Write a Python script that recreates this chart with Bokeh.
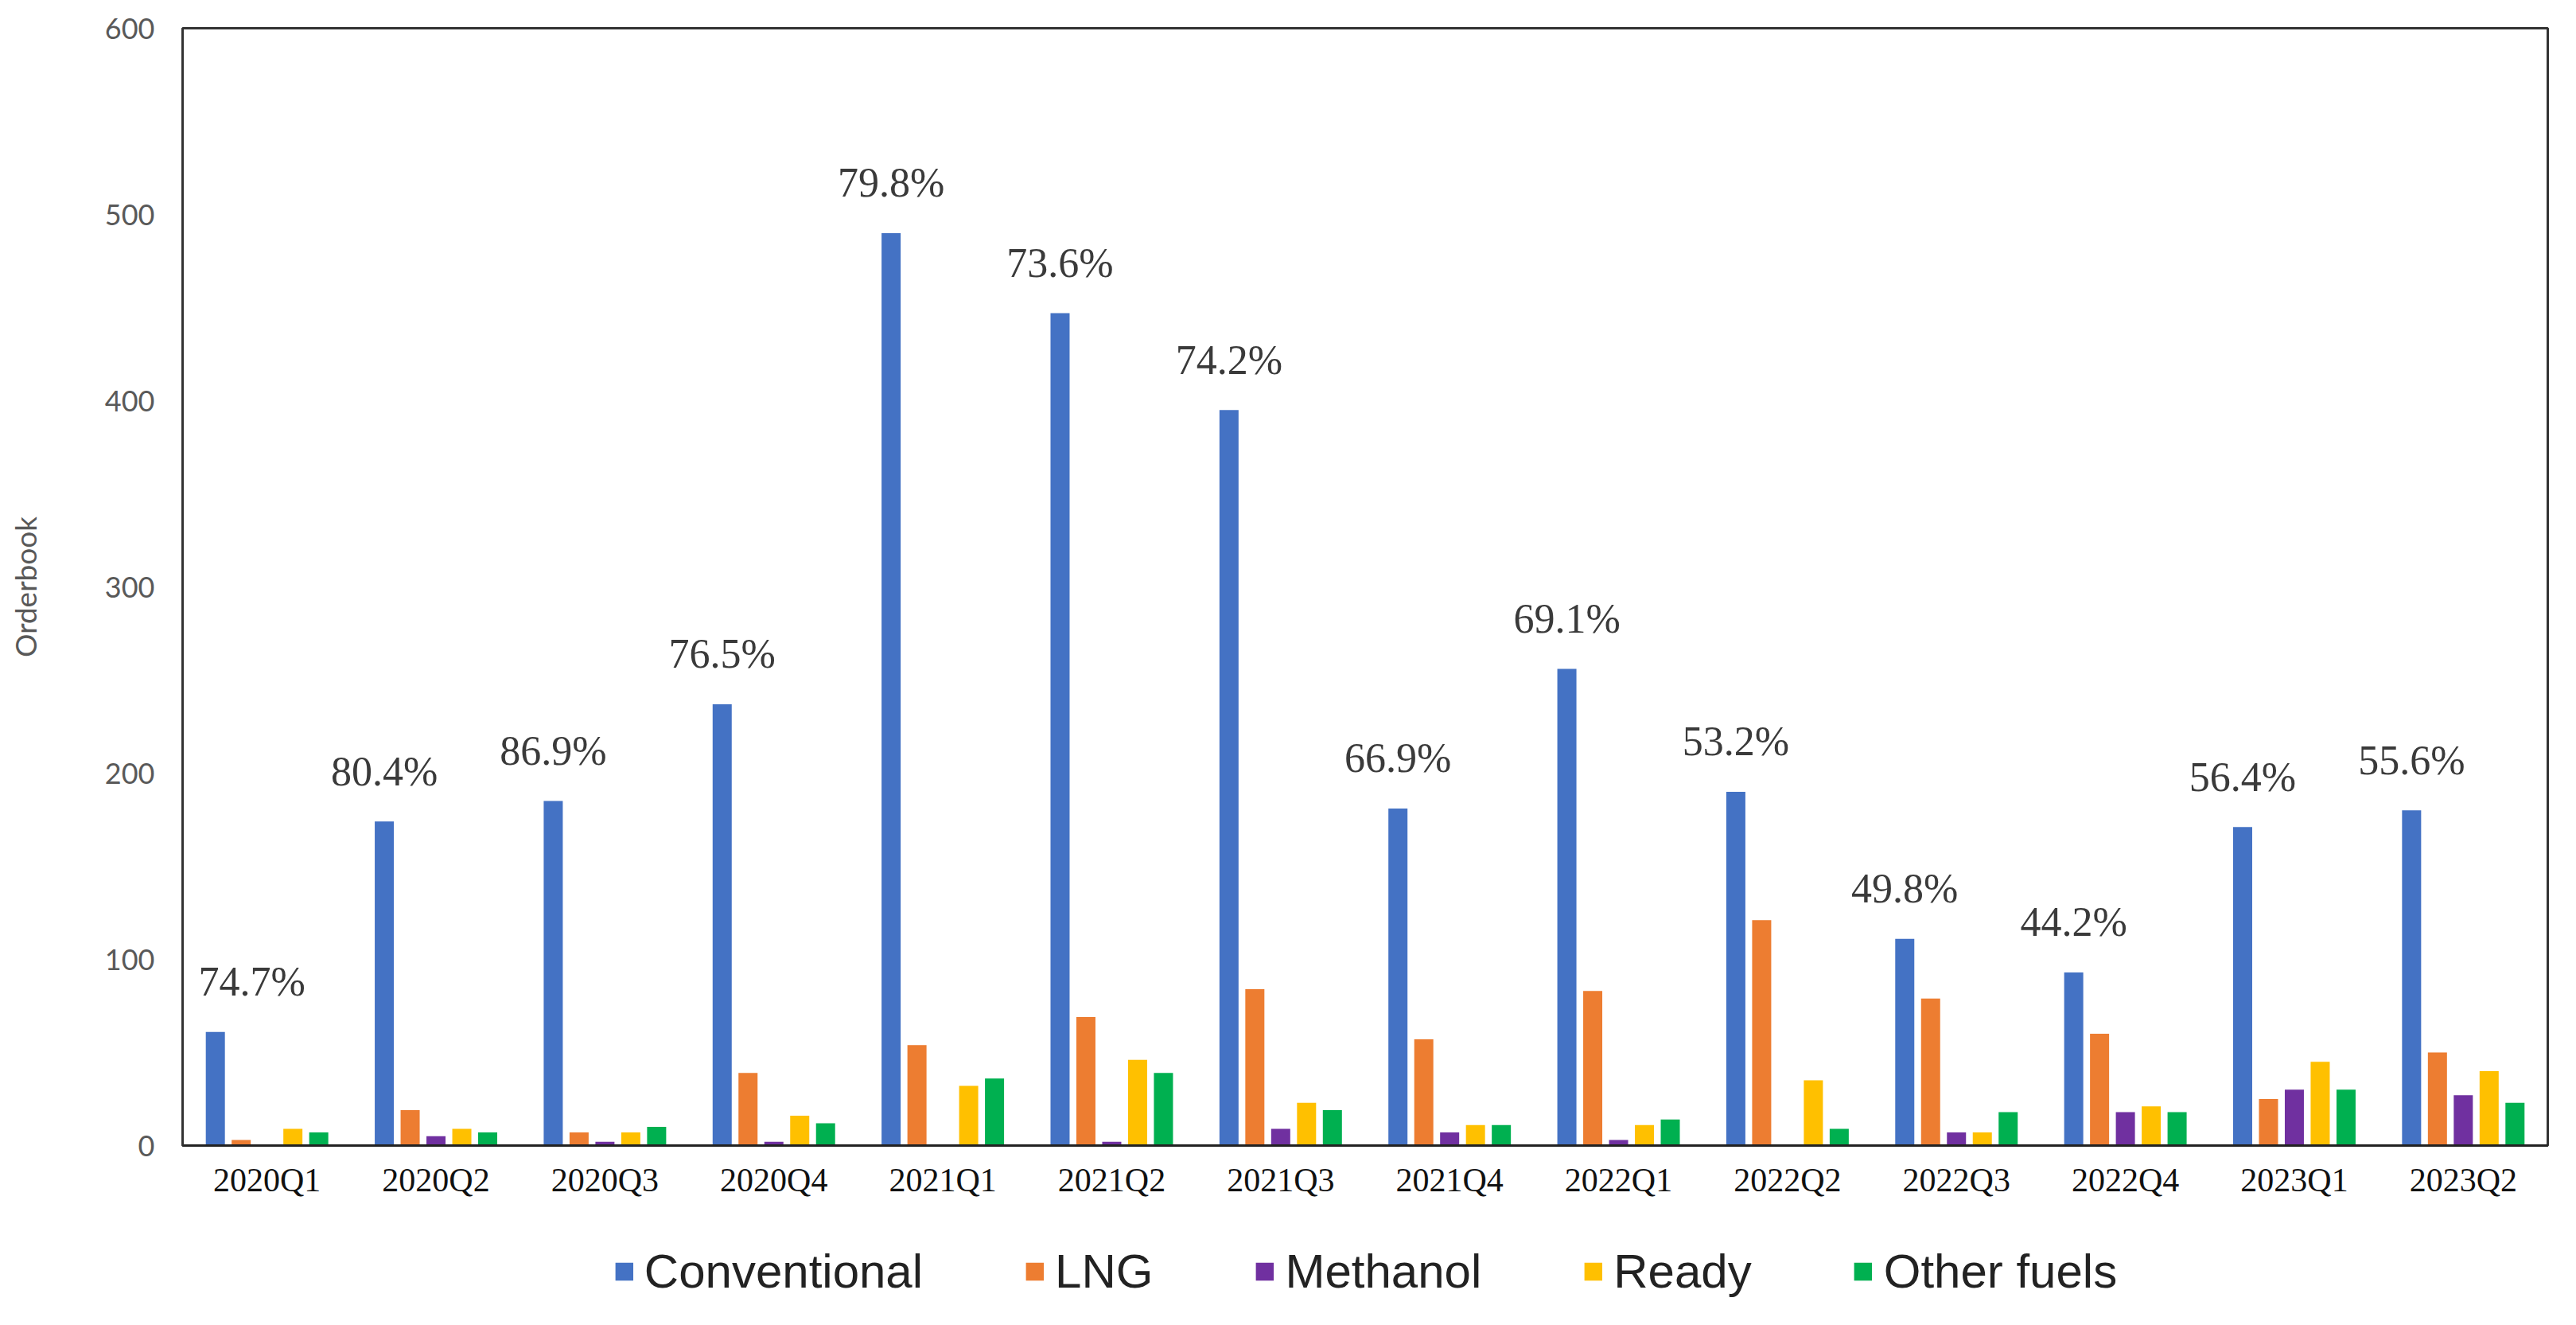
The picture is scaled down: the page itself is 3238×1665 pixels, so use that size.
from bokeh.plotting import figure
from bokeh.layouts import column
from bokeh.models import (ColumnDataSource, FactorRange, Legend, LegendItem, FixedTicker,
                          Range1d)
from bokeh.transform import dodge
from bokeh.core.properties import value
from bokeh.embed import file_html
from bokeh.resources import INLINE

quarters = ["2020Q1", "2020Q2", "2020Q3", "2020Q4", "2021Q1", "2021Q2", "2021Q3",
            "2021Q4", "2022Q1", "2022Q2", "2022Q3", "2022Q4", "2023Q1", "2023Q2"]
conventional = [61, 174, 185, 237, 490, 447, 395, 181, 256, 190, 111, 93, 171, 180]
lng = [3, 19, 7, 39, 54, 69, 84, 57, 83, 121, 79, 60, 25, 50]
methanol = [0, 5, 2, 2, 0, 2, 9, 7, 3, 0, 7, 18, 30, 27]
ready = [9, 9, 7, 16, 32, 46, 23, 11, 11, 35, 7, 21, 45, 40]
other_fuels = [7, 7, 10, 12, 36, 39, 19, 11, 14, 9, 18, 18, 30, 23]
share_labels = ["74.7%", "80.4%", "86.9%", "76.5%", "79.8%", "73.6%", "74.2%",
                "66.9%", "69.1%", "53.2%", "49.8%", "44.2%", "56.4%", "55.6%"]
series_names = ["Conventional", "LNG", "Methanol", "Ready", "Other fuels"]
series_colors = ["#4472C4", "#ED7D31", "#7030A0", "#FFC000", "#00B050"]
y_ticks = [0, 100, 200, 300, 400, 500, 600]

src = ColumnDataSource(dict(q=quarters, Conventional=conventional, LNG=lng,
                            Methanol=methanol, Ready=ready, Other=other_fuels,
                            lab=share_labels))
first_src = ColumnDataSource(dict(q=quarters[:1], Conventional=conventional[:1],
                                  lab=share_labels[:1]))
rest_src = ColumnDataSource(dict(q=quarters[1:], Conventional=conventional[1:],
                                 lab=share_labels[1:]))
cols = ["Conventional", "LNG", "Methanol", "Ready", "Other"]

xr = FactorRange(*quarters)
p = figure(x_range=xr, y_range=(0, 600), width=3222, height=1519,
           output_backend="svg", toolbar_location=None,
           min_border_left=229, min_border_right=20, min_border_top=35, min_border_bottom=80)

pitch = 0.153
bw = 0.113
for i, (c, col) in enumerate(zip(cols, series_colors)):
    p.vbar(x=dodge("q", (i - 2) * pitch, range=xr), top=c, width=bw,
           source=src, fill_color=col, line_color=None)

lab_style = dict(text_align="center", text_baseline="alphabetic", y_offset=-63,
                 text_font=value("Liberation Serif"), text_font_size="52px",
                 text_color="#3a3a3a")
p.text(x=dodge("q", -2 * pitch, range=xr), y="Conventional", text="lab",
       source=rest_src, **lab_style)
p.text(x=dodge("q", -2 * pitch, range=xr), y="Conventional", text="lab",
       source=first_src, x_offset=46, **lab_style)

p.xgrid.grid_line_color = None
p.ygrid.grid_line_color = None
p.outline_line_color = "#333333"
p.outline_line_width = 3
p.background_fill_color = "white"
p.border_fill_color = "white"

p.yaxis.ticker = FixedTicker(ticks=y_ticks)
p.yaxis.axis_label = "Orderbook"
p.yaxis.axis_label_text_font = "Lato"
p.yaxis.axis_label_text_font_style = "normal"
p.yaxis.axis_label_text_font_size = "37px"
p.yaxis.axis_label_text_color = "#595959"
p.yaxis.axis_label_standoff = 75
p.yaxis.major_label_text_font = "Lato"
p.yaxis.major_label_text_font_size = "36px"
p.yaxis.major_label_text_color = "#595959"
p.yaxis.major_label_standoff = 35
p.yaxis.major_tick_out = 0
p.yaxis.major_tick_in = 0
p.yaxis.major_tick_line_color = None
p.yaxis.minor_tick_line_color = None
p.yaxis.axis_line_color = "#333333"
p.yaxis.axis_line_width = 3

p.xaxis.major_label_text_font = "Liberation Serif"
p.xaxis.major_label_text_font_size = "42px"
p.xaxis.major_label_text_color = "#111111"
p.xaxis.major_label_standoff = 20
p.xaxis.major_tick_out = 0
p.xaxis.major_tick_in = 0
p.xaxis.major_tick_line_color = None
p.xaxis.minor_tick_line_color = None
p.xaxis.axis_line_color = "#222222"
p.xaxis.axis_line_width = 3

# legend strip below the chart (same series; its value window shows no bars)
lf = figure(x_range=xr, y_range=Range1d(1000, 2000), width=3222, height=130,
            output_backend="svg", toolbar_location=None,
            x_axis_location=None, y_axis_location=None,
            min_border_left=229, min_border_right=20, min_border_top=26, min_border_bottom=0)
lf.grid.visible = False
lf.outline_line_color = None
lf.background_fill_color = "white"
lf.border_fill_color = "white"
leg_renderers = []
for i, (c, col) in enumerate(zip(cols, series_colors)):
    r = lf.vbar(x=dodge("q", (i - 2) * pitch, range=xr), top=c, width=bw,
                source=src, fill_color=col, line_color=None)
    leg_renderers.append(r)

items = [LegendItem(label=n, renderers=[r]) for n, r in zip(series_names, leg_renderers)]
legend = Legend(items=items, orientation="horizontal", location="center",
                label_text_font="Liberation Sans", label_text_font_size="60px",
                label_text_color="#222222", glyph_width=28, glyph_height=28,
                label_standoff=12, spacing=126, padding=0, margin=0,
                border_line_color=None, background_fill_alpha=0)
lf.add_layout(legend, "center")

layout = column(p, lf, spacing=0)
open("out.html", "w").write(file_html(layout, INLINE))
